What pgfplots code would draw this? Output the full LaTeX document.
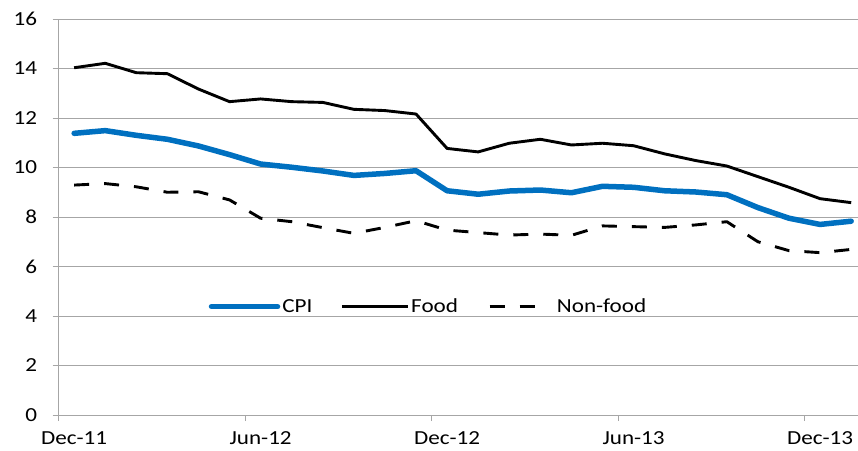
\documentclass[border=0pt]{standalone}
\usepackage{pgfplots}
\usepackage{pgfplotstable}
\pgfplotsset{compat=1.18}
\usepackage{fontspec}
\setmainfont{Carlito}[FakeStretch=1.16]
\definecolor{cpiblue}{RGB}{0,112,192}
\definecolor{gridgray}{RGB}{166,166,166}
\pgfplotstableread{
i cpi food nonfood
0 11.38 14.03 9.29
1 11.49 14.21 9.35
2 11.30 13.83 9.22
3 11.14 13.79 9.00
4 10.87 13.17 9.02
5 10.52 12.66 8.69
6 10.14 12.77 7.95
7 10.01 12.66 7.81
8 9.86 12.63 7.57
9 9.68 12.35 7.34
10 9.76 12.30 7.58
11 9.87 12.16 7.85
12 9.06 10.77 7.47
13 8.92 10.63 7.37
14 9.05 10.98 7.27
15 9.09 11.14 7.31
16 8.98 10.91 7.26
17 9.24 10.98 7.64
18 9.20 10.88 7.61
19 9.06 10.55 7.58
20 9.01 10.28 7.68
21 8.90 10.06 7.81
22 8.38 9.63 7.00
23 7.95 9.20 6.64
24 7.70 8.74 6.56
25 7.83 8.58 6.69
}\datatable
\begin{document}
\begin{tikzpicture}
\begin{axis}[
  name=ax,
  scale only axis, width=799.4bp, height=396bp,
  xmin=-0.5, xmax=25.22, ymin=0, ymax=16,
  axis x line*=bottom, axis y line*=left,
  axis line style={-, draw=gridgray, line width=0.75bp},
  ytick={0,2,...,16}, ymajorgrids,
  grid style={gridgray, line width=0.75bp},
  xtick={-0.5,5.5,11.5,17.5,23.5},
  xticklabels={Dec-11,Jun-12,Dec-12,Jun-13,Dec-13},
  xticklabel style={xshift=15.54bp, yshift=-7bp},
  yticklabel style={xshift=-12bp},
  tick align=outside, major tick length=6bp,
  tick style={gridgray, line width=0.75bp},
  tick label style={font=\fontsize{20}{22}\selectfont, text=black},
  /pgf/number format/assume math mode=true,
  legend columns=3,
  legend style={draw=none, fill=none, at={(axis cs:11.4,4.38)}, anchor=center,
    font=\fontsize{20}{22}\selectfont,
    /tikz/every even column/.append style={column sep=26bp}},
  legend cell align=left,
  legend image code/.code={\draw[#1] (0bp,0bp) -- (66bp,0bp);},
]
\addplot[cpiblue, line width=5.5bp, line join=round, line cap=round] table[x=i, y=cpi] {\datatable};
\addlegendentry{CPI}
\addplot[black, line width=2.9bp, line join=round] table[x=i, y=food] {\datatable};
\addlegendentry{Food}
\addplot[black, line width=2.9bp, line join=round, dash pattern=on 15bp off 15bp, forget plot] table[x=i, y=nonfood] {\datatable};
\addlegendimage{black, line width=2.9bp, dash pattern=on 15bp off 15bp on 15bp off 40bp, dash phase=83bp}
\addlegendentry{Non-food}
\end{axis}
\pgfresetboundingbox
\path ([shift={(-58.6bp,-36bp)}]ax.south west) rectangle ([shift={(0bp,19bp)}]ax.north east);
\end{tikzpicture}
\end{document}
